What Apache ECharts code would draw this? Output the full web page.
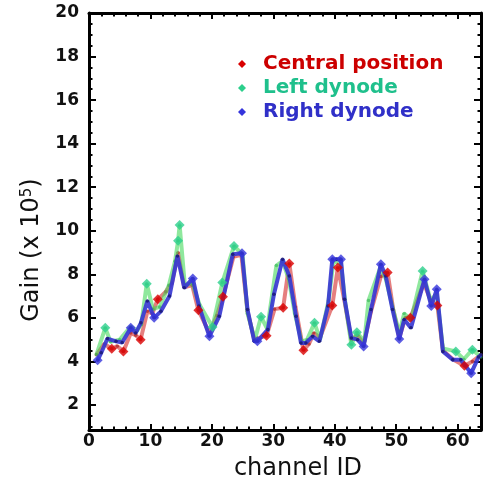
<!DOCTYPE html>
<html>
<head>
<meta charset="utf-8">
<script src="https://cdn.jsdelivr.net/npm/echarts@6/dist/echarts.min.js"></script>
<style>
  html, body { margin: 0; padding: 0; background: #fff; }
  #chart { width: 483px; height: 486px; }
</style>
</head>
<body>
<div id="chart"></div>
<script>
// Gain per channel for the three light-injection positions
const seriesNames = ['Central position', 'Left dynode', 'Right dynode'];

const centralX = [1.2,2.5,3.7,4.6,5.6,6.8,7.6,8.4,9.5,10.3,11.2,12.5,13.5,14.5,15.5,16.8,17.8,19.6,20.8,21.8,23.5,24.8,25.8,26.9,28.9,30.2,31.6,32.6,33.6,34.9,35.8,36.6,37.6,39.6,40.5,41.5,42.7,43.7,44.7,45.9,47.5,48.6,49.5,50.5,51.5,52.3,54.5,55.6,56.7,57.6,59.2,61.1,62.4,63.8];
const centralY = [4.3,4.8,4.58,4.7,4.46,5.3,5.2,5.0,6.3,6.2,6.85,7.2,7.6,9.0,7.4,7.5,6.35,5.3,6.1,6.97,8.8,8.9,6.3,5.0,5.18,6.4,6.46,8.5,6.5,4.51,4.8,5.3,5.1,6.57,8.31,6.9,5.0,5.2,4.8,6.3,7.9,8.08,6.4,5.1,6.0,6.0,7.6,6.8,6.57,4.5,4.1,3.8,4.0,4.3];
const centralMarked = [2,4,7,10,16,19,24,26,27,29,33,34,41,45,48,51];

const leftX = [1.2,2.65,3.5,5.0,6.8,7.8,8.5,9.4,10.4,11.5,13.0,14.0,14.5,14.75,15.6,16.8,18.0,20.1,21.7,23.6,25.0,25.8,27.0,28.0,29.0,30.5,31.5,32.5,33.5,34.6,35.5,36.7,37.6,39.0,39.8,41.0,41.8,42.7,43.6,44.8,45.5,47.4,48.3,49.4,50.5,51.3,52.4,54.3,55.6,56.6,57.6,59.7,61.0,62.4,63.8];
const leftY = [4.3,5.54,4.9,5.0,5.6,5.4,5.7,7.57,6.4,6.5,7.5,8.6,9.54,10.26,7.5,7.6,6.6,5.58,7.62,9.3,8.9,6.2,5.0,6.05,5.5,8.4,8.6,7.8,6.2,4.9,5.0,5.77,5.0,6.8,8.6,8.5,6.5,4.77,5.34,4.9,6.8,8.3,7.8,6.5,5.3,6.2,5.9,8.15,6.8,7.1,4.6,4.46,4.1,4.54,4.2];
const leftMarked = [1,7,12,13,17,18,19,23,31,37,38,47,51,53];

const rightX = [1.4,2.0,3.0,4.4,5.4,6.8,7.6,8.45,9.5,10.6,11.7,13.1,14.4,15.5,16.9,17.9,19.6,21.2,23.4,24.9,25.8,26.9,27.4,29.1,30.1,31.5,32.6,33.7,34.5,35.3,36.4,37.5,38.9,39.6,40.3,41.0,41.6,42.7,43.7,44.7,45.9,47.5,48.3,49.4,50.5,51.3,52.4,54.6,55.7,56.6,57.6,59.2,60.5,62.2,63.4,63.8];
const rightY = [4.05,4.4,5.05,4.92,4.87,5.54,5.31,5.77,6.77,6.0,6.3,7.0,8.84,7.38,7.81,6.54,5.15,6.07,8.92,8.97,6.38,4.92,4.92,5.46,7.08,8.69,7.92,6.07,4.85,4.85,5.15,4.92,6.54,8.69,8.69,8.69,6.85,5.08,5.0,4.69,6.38,8.46,7.92,6.38,5.03,5.92,5.54,7.77,6.54,7.31,4.46,4.08,4.08,3.46,4.2,4.3];
const rightMarked = [0,5,9,14,16,19,22,33,35,39,41,44,47,48,49,53];

// Axis ticks
const xMajorTicks = [0,10,20,30,40,50,60];
const xMinorTicks = [2,4,6,8,12,14,16,18,22,24,26,28,32,34,36,38,42,44,46,48,52,54,56,58,62];
const yMajorTicks = [2,4,6,8,10,12,14,16,18,20];
const yMinorTicks = [1,1.5,2.5,3,3.5,4.5,5,5.5,6.5,7,7.5,8.5,9,9.5,10.5,11,11.5,12.5,13,13.5,14.5,15,15.5,16.5,17,17.5,18.5,19,19.5];

const X_MIN = 0, X_MAX = 63.8, Y_MIN = 0.85, Y_MAX = 20;

const colors = {
  central: { line: '#d42a2a', mark: '#d90000', text: '#cc0000', dot: '#a01010', alpha: 0.6 },
  left:    { line: '#44d85c', mark: '#2ccf8c', text: '#1fc08c', dot: '#30b050', alpha: 0.6 },
  right:   { line: '#3838d2', mark: '#3434dc', text: '#3030c8', dot: '#1c1c7c', alpha: 0.92 }
};

const pairs = (xs, ys) => xs.map((x, i) => [x, ys[i]]);
const picked = (xs, ys, idx) => idx.map(i => [xs[i], ys[i]]);

const gridRect = { left: 89, top: 13, width: 392, height: 417 };
const tickFont = { fontFamily: 'DejaVu Sans', fontWeight: 'bold', fontSize: 17, color: '#111' };

function valueAxis(kind, pos, grid, min, max, ticks, len, labels, showLine) {
  return {
    type: 'value', gridIndex: grid, position: pos, min: min, max: max,
    axisLine: { show: showLine, onZero: false, lineStyle: { color: '#000', width: 3 } },
    axisTick: { show: true, inside: true, length: len, customValues: ticks,
                lineStyle: { color: '#000', width: 2 } },
    axisLabel: labels
      ? Object.assign({ show: true, customValues: ticks, margin: kind === 'x' ? 3 : 10 }, tickFont)
      : { show: false },
    splitLine: { show: false }
  };
}

function lineSeries(name, data, c, z) {
  return {
    name: name, type: 'line', data: data, z: z,
    symbol: 'circle', symbolSize: 3.5, showAllSymbol: true,
    lineStyle: { color: c.line, width: 4, opacity: c.alpha },
    itemStyle: { color: c.dot, opacity: c.alpha },
    emphasis: { disabled: true }
  };
}

function markSeries(name, data, c) {
  return {
    name: name, type: 'scatter', data: data, z: 5,
    symbol: 'diamond', symbolSize: 10,
    itemStyle: { color: c.mark },
    emphasis: { disabled: true }
  };
}

function legendItem(name, c) {
  return { name: name, itemStyle: { color: c.mark, opacity: 1 }, textStyle: { color: c.text } };
}

const chart = echarts.init(document.getElementById('chart'), null, { renderer: 'canvas' });

chart.setOption({
  animation: false,
  backgroundColor: '#fff',
  grid: [Object.assign({}, gridRect), Object.assign({}, gridRect)],
  xAxis: [
    valueAxis('x', 'bottom', 0, X_MIN, X_MAX, xMajorTicks, 6, true, true),
    valueAxis('x', 'top', 0, X_MIN, X_MAX, xMajorTicks, 6, false, true),
    valueAxis('x', 'bottom', 1, X_MIN, X_MAX, xMinorTicks, 3.5, false, false),
    valueAxis('x', 'top', 1, X_MIN, X_MAX, xMinorTicks, 3.5, false, false)
  ],
  yAxis: [
    valueAxis('y', 'left', 0, Y_MIN, Y_MAX, yMajorTicks, 7, true, true),
    valueAxis('y', 'right', 0, Y_MIN, Y_MAX, yMajorTicks, 7, false, true),
    valueAxis('y', 'left', 1, Y_MIN, Y_MAX, yMinorTicks, 3.5, false, false),
    valueAxis('y', 'right', 1, Y_MIN, Y_MAX, yMinorTicks, 3.5, false, false)
  ],
  legend: {
    orient: 'vertical', left: 233, top: 49,
    itemWidth: 8, itemHeight: 8, itemGap: 4, icon: 'diamond',
    selectedMode: false,
    textStyle: { fontFamily: 'DejaVu Sans', fontWeight: 'bold', fontSize: 20, padding: [0, 0, 0, 12] },
    data: [
      legendItem(seriesNames[0], colors.central),
      legendItem(seriesNames[1], colors.left),
      legendItem(seriesNames[2], colors.right)
    ]
  },
  graphic: [
    {
      type: 'text', x: 32, y: 250, rotation: Math.PI / 2,
      style: {
        text: 'Gain (x 10{sup|5})',
        fontFamily: 'DejaVu Sans', fontSize: 24, fill: '#111',
        align: 'center', verticalAlign: 'middle',
        rich: { sup: { fontFamily: 'DejaVu Sans', fontSize: 15, fill: '#111', verticalAlign: 'top', padding: [0, 0, 10, 0] } }
      }
    },
    {
      type: 'text', x: 298, y: 469,
      style: {
        text: 'channel ID',
        fontFamily: 'DejaVu Sans', fontSize: 24, fill: '#111',
        align: 'center', verticalAlign: 'middle'
      }
    }
  ],
  series: [
    lineSeries(seriesNames[0], pairs(centralX, centralY), colors.central, 2),
    lineSeries(seriesNames[1], pairs(leftX, leftY), colors.left, 3),
    lineSeries(seriesNames[2], pairs(rightX, rightY), colors.right, 4),
    markSeries(seriesNames[0], picked(centralX, centralY, centralMarked), colors.central),
    markSeries(seriesNames[1], picked(leftX, leftY, leftMarked), colors.left),
    markSeries(seriesNames[2], picked(rightX, rightY, rightMarked), colors.right)
  ]
});
</script>
</body>
</html>
